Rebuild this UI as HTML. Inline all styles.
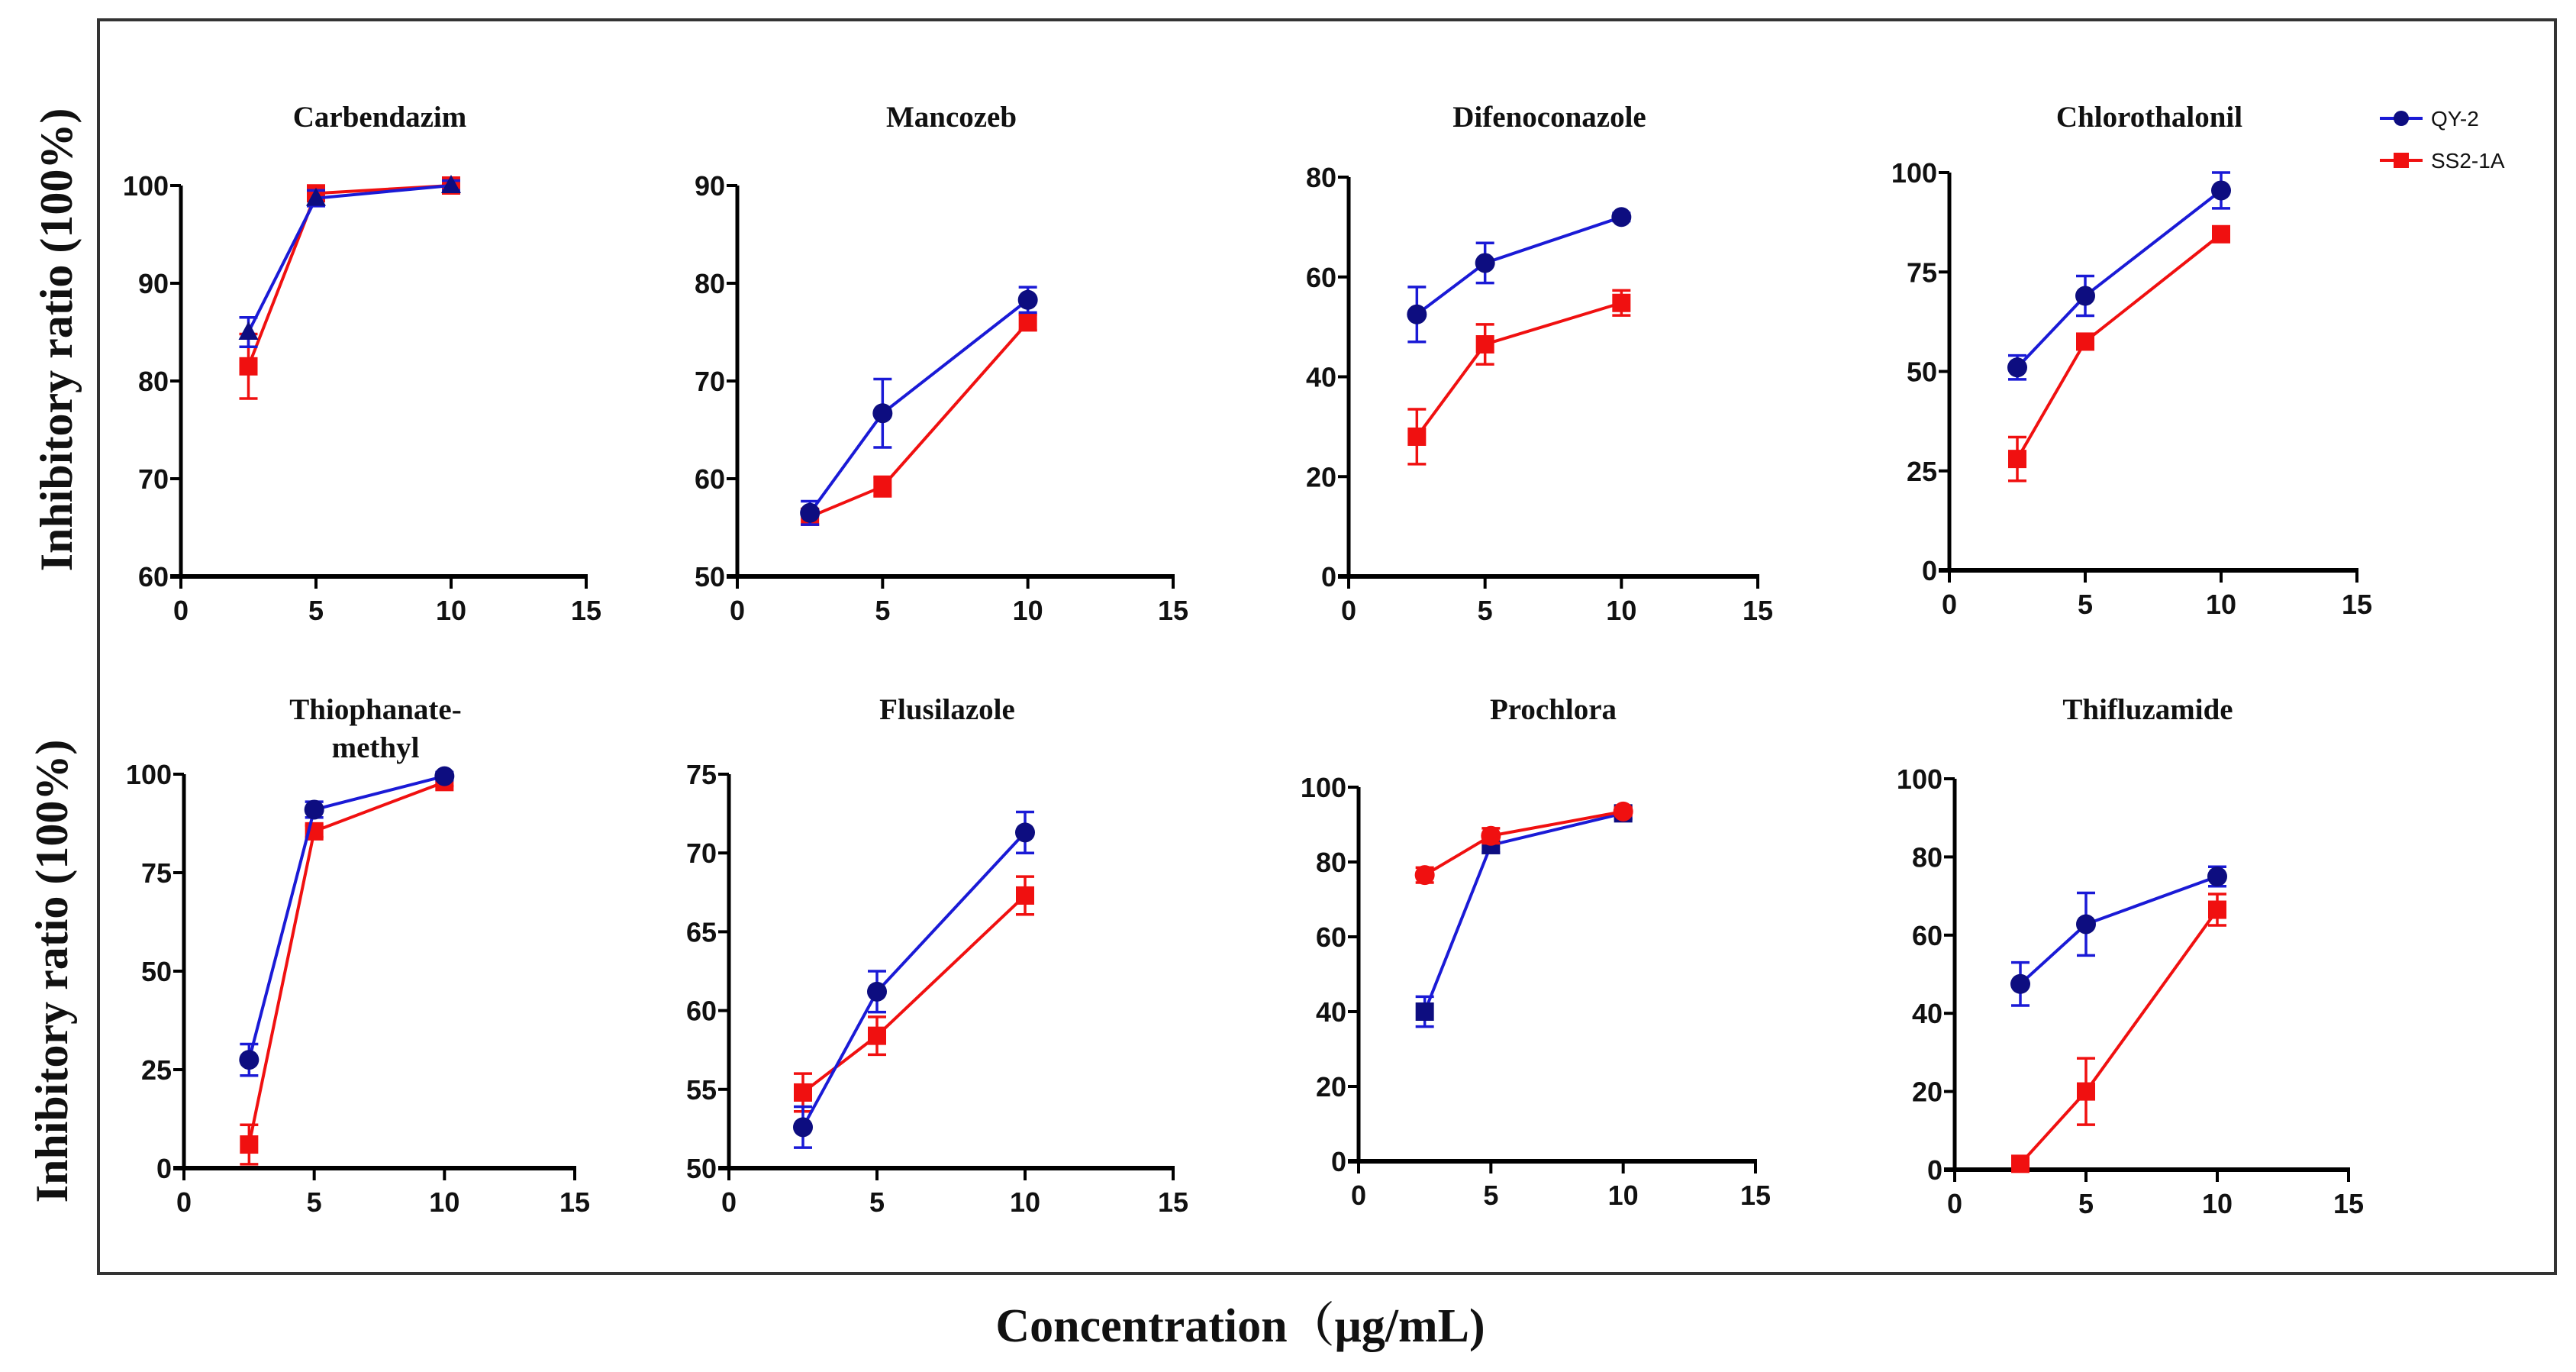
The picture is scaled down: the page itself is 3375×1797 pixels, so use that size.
<!DOCTYPE html>
<html><head><meta charset="utf-8"><style>
html,body{margin:0;padding:0;background:#fff;}
svg{display:block;}
.tick{font-family:"Liberation Sans",sans-serif;font-weight:bold;font-size:36px;fill:#111;}
.title{font-family:"Liberation Serif",serif;font-weight:bold;font-size:39px;fill:#111;}
.ylab{font-family:"Liberation Serif",serif;font-weight:bold;font-size:60px;fill:#111;}
.xlab{font-family:"Liberation Serif","Noto Serif CJK SC",serif;font-weight:bold;font-size:62px;fill:#111;}
.leg{font-family:"Liberation Sans",sans-serif;font-size:28px;fill:#111;}
</style></head><body>
<svg id="chart" width="3375" height="1797" viewBox="0 0 3375 1797" xmlns="http://www.w3.org/2000/svg">
<rect x="129" y="26" width="3219" height="1642" fill="none" stroke="#333" stroke-width="4"/>
<text class="ylab" transform="translate(94,445) rotate(-90)" text-anchor="middle">Inhibitory ratio (100%)</text>
<text class="ylab" transform="translate(88,1272) rotate(-90)" text-anchor="middle">Inhibitory ratio (100%)</text>
<text class="xlab" x="1625" y="1757" text-anchor="middle">Concentration（μg/mL)</text>
<g>
<g>
<line x1="3118" y1="155" x2="3174" y2="155" stroke="#1a1ad6" stroke-width="4"/><circle cx="3146" cy="155" r="10" fill="#0d0d80"/>
<text class="leg" x="3185" y="165">QY-2</text></g>
<g>
<line x1="3118" y1="210" x2="3174" y2="210" stroke="#f01010" stroke-width="4"/><rect x="3136" y="200" width="20" height="20" fill="#f01010"/>
<text class="leg" x="3185" y="220">SS2-1A</text></g>
</g>
<g id="panels"></g>
</svg>
<script>
const concentrations = [2.5, 5, 10];
const xTicks = [0, 5, 10, 15];
const panelTitles = ["Carbendazim","Mancozeb","Difenoconazole","Chlorothalonil","Thiophanate-|methyl","Flusilazole","Prochlora","Thifluzamide"];
const yTicks = [[60,70,80,90,100],[50,60,70,80,90],[0,20,40,60,80],[0,25,50,75,100],[0,25,50,75,100],[50,55,60,65,70,75],[0,20,40,60,80,100],[0,20,40,60,80,100]];
const qyValues = [[85,98.7,100],[56.5,66.7,78.3],[52.5,62.8,72],[51,69,95.5],[27.5,91,99.5],[52.6,61.2,71.3],[40,84.5,93],[47.5,62.8,75]];
const qyErrors = [[1.5,0.8,0.5],[1.2,3.5,1.3],[5.5,4,0.8],[3,5,4.5],[4,2,1],[1.3,1.3,1.3],[4,2,1.5],[5.5,8,2.5]];
const ssValues = [[81.5,99.2,100],[56.1,59.2,76],[28,46.5,54.8],[28,57.5,84.5],[6,85.5,98],[54.8,58.4,67.3],[76.5,87,93.5],[1.5,20,66.5]];
const ssErrors = [[3.3,0.5,0.5],[0.8,1,0.8],[5.5,4,2.5],[5.5,1.5,1],[5,1.5,1],[1.2,1.2,1.2],[2,2,1],[1,8.5,4]];
const qyMarker = ["triangle","circle","circle","circle","circle","circle","square","circle"];
const ssMarker = ["square","square","square","square","square","square","circle","square"];

// layout (pixel geometry, not data)
const layout = [
 {x0:237,x1:768,yt:243,yb:755},{x0:966,x1:1537,yt:243,yb:755},
 {x0:1767,x1:2303,yt:232,yb:755},{x0:2554,x1:3088,yt:226,yb:747},
 {x0:241,x1:753,yt:1014,yb:1530},{x0:955,x1:1537,yt:1014,yb:1530},
 {x0:1780,x1:2300,yt:1031,yb:1521},{x0:2561,x1:3077,yt:1020,yb:1532}];
const titleY = [166,166,166,166,942,942,942,942];
const NS = "http://www.w3.org/2000/svg";
const root = document.getElementById("panels");
function mk(tag, attrs, parent){const e=document.createElementNS(NS,tag);for(const k in attrs)e.setAttribute(k,attrs[k]);parent.appendChild(e);return e;}

function drawMarker(g, type, cx, cy, fill){
  let m;
  if(type==="circle") m=mk("circle",{cx:cx,cy:cy,r:13,fill:fill},g);
  else if(type==="square") m=mk("rect",{x:cx-12,y:cy-12,width:24,height:24,fill:fill},g);
  else m=mk("polygon",{points:`${cx},${cy-14} ${cx+13},${cy+10} ${cx-13},${cy+10}`,fill:fill},g);
  return m;
}

for(let p=0;p<8;p++){
  const L=layout[p], yt=yTicks[p], ymin=yt[0], ymax=yt[yt.length-1];
  const xs=v=>L.x0+(v-0)/(15-0)*(L.x1-L.x0);
  const ys=v=>L.yb-(v-ymin)/(ymax-ymin)*(L.yb-L.yt);
  const g=mk("g",{},root);
  
  
  const parts=panelTitles[p].split("|");
  parts.forEach((t,i)=>{const tt=mk("text",{class:"title",x:(L.x0+L.x1)/2-5,y:titleY[p]+i*50,"text-anchor":"middle"},g);tt.textContent=t;
    
    });
  const ax=mk("g",{},g);
  
  
  mk("line",{x1:L.x0,y1:L.yt,x2:L.x0,y2:L.yb+2,stroke:"#000","stroke-width":5},ax);
  mk("line",{x1:L.x0-14,y1:L.yb,x2:L.x1+2,y2:L.yb,stroke:"#000","stroke-width":6},ax);
  yt.forEach(v=>{const y=ys(v);mk("line",{x1:L.x0-14,y1:y,x2:L.x0,y2:y,stroke:"#000","stroke-width":4},ax);
    const t=mk("text",{class:"tick",x:L.x0-16,y:y+13,"text-anchor":"end"},ax);t.textContent=v;
    
    });
  xTicks.forEach(v=>{const x=xs(v);mk("line",{x1:x,y1:L.yb,x2:x,y2:L.yb+16,stroke:"#000","stroke-width":4},ax);
    const t=mk("text",{class:"tick",x:x,y:L.yb+57,"text-anchor":"middle"},ax);t.textContent=v;
    
    });
  const series=[{v:ssValues[p],e:ssErrors[p],line:"#f01010",fill:"#f01010",mt:ssMarker[p],n:"ss2-1a"},
                {v:qyValues[p],e:qyErrors[p],line:"#1a1ad6",fill:"#0d0d80",mt:qyMarker[p],n:"qy2"}];
  if(p===6) series.reverse();
  series.forEach(s=>{
    const sg=mk("g",{},g);
    
    
    const pts=concentrations.map((c,i)=>xs(c)+","+ys(s.v[i])).join(" ");
    mk("polyline",{points:pts,fill:"none",stroke:s.line,"stroke-width":4},sg);
    concentrations.forEach((c,i)=>{
      const x=xs(c),y1=ys(s.v[i]+s.e[i]),y2=ys(s.v[i]-s.e[i]);
      mk("line",{x1:x,y1:y1,x2:x,y2:y2,stroke:s.line,"stroke-width":3.5},sg);
      mk("line",{x1:x-12,y1:y1,x2:x+12,y2:y1,stroke:s.line,"stroke-width":3.5},sg);
      mk("line",{x1:x-12,y1:y2,x2:x+12,y2:y2,stroke:s.line,"stroke-width":3.5},sg);
      const m=drawMarker(sg,s.mt,x,ys(s.v[i]),s.fill);
      
      
    });
  });
}
</script>
</body></html>
